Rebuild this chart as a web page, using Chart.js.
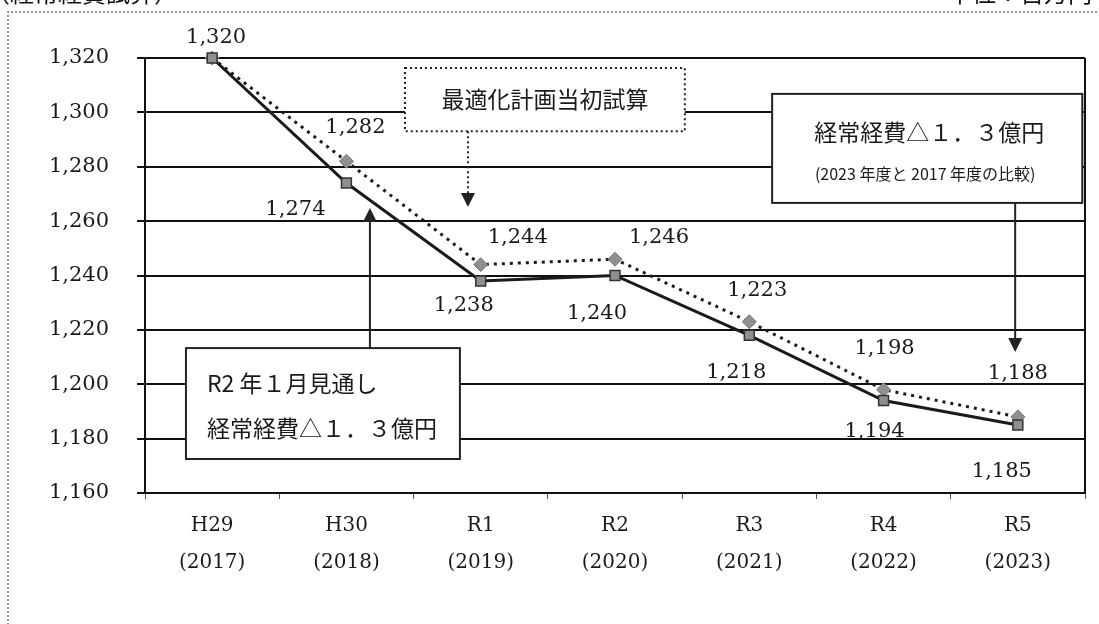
<!DOCTYPE html>
<html>
<head>
<meta charset="utf-8">
<script src="https://cdn.jsdelivr.net/npm/chart.js@4.4.0/dist/chart.umd.min.js"></script>
<style>
  html, body { margin: 0; padding: 0; background: #fff; }
  #wrap { width: 1099px; height: 624px; position: relative; }
</style>
</head>
<body>
<div id="wrap"><canvas id="keihiChart" width="1099" height="624"></canvas></div>
<script>
// 年度（和暦と西暦）
const years = [["H29", "(2017)"], ["H30", "(2018)"], ["R1", "(2019)"], ["R2", "(2020)"],
               ["R3", "(2021)"], ["R4", "(2022)"], ["R5", "(2023)"]];
// R2年1月見通し（実線）
const mitooshi = [1320, 1274, 1238, 1240, 1218, 1194, 1185];
// 最適化計画当初試算（点線）
const toushoShisan = [1320, 1282, 1244, 1246, 1223, 1198, 1188];
// 縦軸
const yMin = 1160;
const yMax = 1320;
const yStep = 20;

const numFont = '"DejaVu Serif", "Liberation Serif", serif';
const jpFont = '"Noto Sans CJK JP", sans-serif';

// ラベルのずらし量（点からのピクセル）
const toushoLabelShift = [[4, -20], [9, -34], [37, -27], [44, -22], [8, -31], [1, -41], [0, -43]];
const mitooshiLabelShift = [null, [-51, 26], [-17, 25], [-18, 38], [-13, 37], [-9, 31], [-16, 47]];

const fmt = v => v.toLocaleString("en-US");

// 数値ラベル・枠・吹き出し
const decorPlugin = {
  id: "decor",
  beforeDraw(chart) {
    const ctx = chart.ctx;
    ctx.save();
    ctx.fillStyle = "#fff";
    ctx.fillRect(0, 0, chart.width, chart.height);
    // 外枠（点線）
    ctx.strokeStyle = "#777";
    ctx.lineWidth = 1.5;
    ctx.setLineDash([2, 2]);
    ctx.beginPath();
    ctx.moveTo(8, chart.height + 5);
    ctx.lineTo(8, 12);
    ctx.lineTo(chart.width + 5, 12);
    ctx.stroke();
    ctx.setLineDash([]);
    // 上で切れている見出し
    ctx.fillStyle = "#111";
    ctx.font = "24px " + jpFont;
    ctx.textBaseline = "alphabetic";
    ctx.textAlign = "left";
    ctx.fillText("（経常経費試算）", -14, 2);
    ctx.textAlign = "right";
    ctx.fillText("単位：百万円", 1092, 2);
    ctx.restore();
  },
  afterDatasetsDraw(chart) {
    const ctx = chart.ctx;
    const xs = chart.scales.x, ys = chart.scales.y;
    const a = chart.chartArea;
    const px = v => xs.getPixelForValue(v);
    const py = v => ys.getPixelForValue(v);
    ctx.save();
    // 右側の枠線
    ctx.strokeStyle = "#111";
    ctx.lineWidth = 2;
    ctx.beginPath();
    ctx.moveTo(a.right, a.top);
    ctx.lineTo(a.right, a.bottom);
    ctx.stroke();

    // 数値ラベル
    ctx.fillStyle = "#1a1a1a";
    ctx.font = "21px " + numFont;
    ctx.textAlign = "center";
    ctx.textBaseline = "middle";
    const m1 = chart.getDatasetMeta(1);
    toushoShisan.forEach((v, i) => {
      const p = m1.data[i];
      const s = toushoLabelShift[i];
      ctx.fillText(fmt(v), p.x + s[0], p.y + s[1]);
    });
    const m0 = chart.getDatasetMeta(0);
    mitooshi.forEach((v, i) => {
      const s = mitooshiLabelShift[i];
      if (!s) return;
      const p = m0.data[i];
      ctx.fillText(fmt(v), p.x + s[0], p.y + s[1]);
    });

    const arrowHead = (x, y, dir) => {
      ctx.beginPath();
      ctx.moveTo(x, y);
      ctx.lineTo(x - 7, y - 14 * dir);
      ctx.lineTo(x + 7, y - 14 * dir);
      ctx.closePath();
      ctx.fill();
    };

    // 吹き出し1：最適化計画当初試算（点線枠）
    let l = px(1.436), r = px(3.52), t = py(1316.3), b = py(1293.1);
    ctx.fillStyle = "#fff";
    ctx.fillRect(l, t, r - l, b - t);
    ctx.strokeStyle = "#222";
    ctx.lineWidth = 2;
    ctx.setLineDash([2, 3]);
    ctx.strokeRect(l, t, r - l, b - t);
    let ax = px(1.905), tip = py(1265.2);
    ctx.beginPath();
    ctx.moveTo(ax, b);
    ctx.lineTo(ax, tip - 10);
    ctx.stroke();
    ctx.setLineDash([]);
    ctx.fillStyle = "#222";
    arrowHead(ax, tip, 1);
    ctx.fillStyle = "#1a1a1a";
    ctx.font = "23px " + jpFont;
    ctx.textAlign = "center";
    ctx.fillText("最適化計画当初試算", (l + r) / 2, (t + b) / 2);

    // 吹き出し2：経常経費△1.3億円（2023年度と2017年度の比較）
    l = px(4.17); r = px(6.48); t = py(1306.8); b = py(1266.7);
    ctx.fillStyle = "#fff";
    ctx.fillRect(l, t, r - l, b - t);
    ctx.strokeStyle = "#222";
    ctx.lineWidth = 2;
    ctx.strokeRect(l, t, r - l, b - t);
    ax = px(5.98); tip = py(1211.9);
    ctx.beginPath();
    ctx.moveTo(ax, b);
    ctx.lineTo(ax, tip - 10);
    ctx.stroke();
    ctx.fillStyle = "#222";
    arrowHead(ax, tip, 1);
    ctx.fillStyle = "#1a1a1a";
    ctx.font = "23px " + jpFont;
    ctx.fillText("経常経費△１．３億円", (l + r) / 2 + 2, t + 38);
    ctx.font = "16px " + jpFont;
    ctx.fillText("(2023 年度と 2017 年度の比較)", (l + r) / 2 - 2, t + 80);

    // 吹き出し3：R2年1月見通し（上向き矢印）
    l = px(-0.195); r = px(1.845); t = py(1213.3); b = py(1172.5);
    ax = px(1.175); tip = py(1264.8);
    ctx.strokeStyle = "#222";
    ctx.lineWidth = 2;
    ctx.beginPath();
    ctx.moveTo(ax, t);
    ctx.lineTo(ax, tip + 10);
    ctx.stroke();
    ctx.fillStyle = "#222";
    arrowHead(ax, tip, -1);
    ctx.fillStyle = "#fff";
    ctx.fillRect(l, t, r - l, b - t);
    ctx.strokeRect(l, t, r - l, b - t);
    ctx.fillStyle = "#1a1a1a";
    ctx.font = "23px " + jpFont;
    ctx.textAlign = "left";
    ctx.fillText("R2 年１月見通し", l + 21, t + 35);
    ctx.fillText("経常経費△１．３億円", l + 21, t + 80);
    ctx.restore();
  }
};

const ctx = document.getElementById("keihiChart").getContext("2d");
new Chart(ctx, {
  type: "line",
  data: {
    labels: years,
    datasets: [
      {
        label: "R2年1月見通し",
        data: mitooshi,
        borderColor: "#1a1a1a",
        borderWidth: 3,
        pointStyle: "rect",
        pointRadius: 7,
        pointBackgroundColor: "#8f8f8f",
        pointBorderColor: "#333",
        pointBorderWidth: 1.5,
        tension: 0,
        clip: false,
        order: 1
      },
      {
        label: "最適化計画当初試算",
        data: toushoShisan,
        borderColor: "#1a1a1a",
        borderWidth: 3,
        borderDash: [3, 5],
        pointStyle: "rectRot",
        pointRadius: 7,
        pointBackgroundColor: "#8f8f8f",
        pointBorderColor: "#777",
        pointBorderWidth: 1,
        tension: 0,
        clip: false,
        order: 2
      }
    ]
  },
  options: {
    responsive: false,
    animation: false,
    layout: { padding: { top: 58, right: 14, left: 0, bottom: 0 } },
    plugins: {
      legend: { display: false },
      tooltip: { enabled: false },
      title: { display: false }
    },
    scales: {
      x: {
        offset: true,
        grid: { display: true, drawOnChartArea: false, offset: true, tickLength: 6, color: "#555", lineWidth: 1 },
        border: { display: true, color: "#111", width: 2 },
        ticks: {
          color: "#1a1a1a",
          padding: 8,
          font: { family: numFont, size: 20, lineHeight: 1.85 }
        },
        afterFit(scale) { scale.height = 131; }
      },
      y: {
        min: yMin,
        max: yMax,
        grid: { color: "#111", lineWidth: 2, tickLength: 8 },
        border: { display: true, color: "#111", width: 2 },
        ticks: {
          stepSize: yStep,
          color: "#1a1a1a",
          padding: 28,
          font: { family: numFont, size: 21 },
          callback: v => fmt(v)
        },
        afterFit(scale) { scale.width = 145; }
      }
    }
  },
  plugins: [decorPlugin]
});
</script>
</body>
</html>
